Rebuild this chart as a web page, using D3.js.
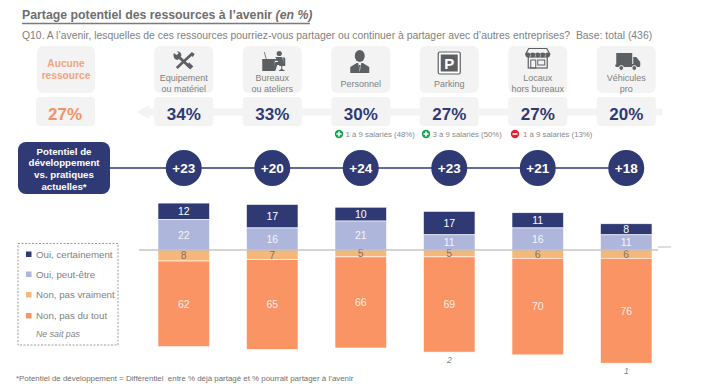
<!DOCTYPE html>
<html>
<head>
<meta charset="utf-8">
<script src="https://cdn.jsdelivr.net/npm/d3@7"></script>
<style>
  html, body { margin: 0; padding: 0; background: #fff; }
  svg { display: block; font-family: "Liberation Sans", Arial, sans-serif; }
</style>
</head>
<body>
<div id="graph"></div>
<script>
// Données
const ressources = [["Equipement", "ou matériel"], ["Bureaux", "ou ateliers"], ["Personnel"], ["Parking"], ["Locaux", "hors bureaux"], ["Véhicules", "pro"]];
const partage = [34, 33, 30, 27, 27, 20];
const potentiel = [23, 20, 24, 23, 21, 18];
const ouiCertainement = [12, 17, 10, 17, 11, 8];
const ouiPeutEtre = [22, 16, 21, 11, 16, 11];
const nonPasVraiment = [8, 7, 5, 5, 6, 6];
const nonPasDuTout = [62, 65, 66, 69, 70, 76];
const neSaitPas = ["", "", "", "2", "", "1"];
const aucuneRessource = 27;
const legende = ["Oui, certainement", "Oui, peut-être", "Non, pas vraiment", "Non, pas du tout"];
const notes = ["1 à 9 salariés (48%)", "3 à 9 salariés (50%)", "1 à 9 salariés (13%)"];

const width = 718;
const height = 389;
const marine = "#2f3a75";
const couleurs = ["#2f3a75", "#aeb6db", "#f6b77b", "#fa9465"];
const grisTexte = "#7f7f7f";
const grisCarte = "#f3f3f3";

const svg = d3.select("#graph").append("svg")
    .attr("width", width)
    .attr("height", height)
    .attr("viewBox", [0, 0, width, height]);

//---------------------------------------------------------------------------------------
// Echelles

const scaleX = d3.scaleBand()
    .domain(d3.range(ressources.length))
    .range([158, 652])
    .paddingInner(0.418)
    .paddingOuter(0);

const centre = i => scaleX(i) + scaleX.bandwidth() / 2;

// 0 = ligne de base, positif vers le haut
const scaleY = d3.scaleLinear()
    .domain([-100, 100])
    .range([250 + 138, 250 - 138]);

//---------------------------------------------------------------------------------------
// Titres

svg.append("text")
    .attr("x", 22).attr("y", 18.5)
    .attr("font-size", 12.3).attr("font-weight", "bold").attr("fill", "#6e6e6e")
    .text("Partage potentiel des ressources à l’avenir ")
    .append("tspan")
    .attr("font-style", "italic")
    .text("(en %)");

svg.append("line")
    .attr("x1", 22).attr("x2", 310).attr("y1", 23.5).attr("y2", 23.5)
    .attr("stroke", "#7a7a7a").attr("stroke-width", 1.4);

svg.append("text")
    .attr("x", 22).attr("y", 38.5)
    .attr("font-size", 10.4).attr("fill", grisTexte)
    .attr("xml:space", "preserve")
    .text("Q10. A l’avenir, lesquelles de ces ressources pourriez-vous partager ou continuer à partager avec d’autres entreprises?  Base: total (436)");

//---------------------------------------------------------------------------------------
// Bande grise + flèche derrière les pourcentages

svg.append("path")
    .attr("d", d3.line()([[137, 112], [149, 105], [149, 108.5], [662, 108.5], [662, 115.5], [149, 115.5], [149, 119]]))
    .attr("fill", grisCarte);

//---------------------------------------------------------------------------------------
// Cartes

svg.append("rect").attr("x", 37).attr("y", 46).attr("width", 58).attr("height", 47).attr("rx", 6).attr("fill", grisCarte);
svg.append("rect").attr("x", 36).attr("y", 97).attr("width", 59).attr("height", 29).attr("rx", 4).attr("fill", grisCarte);

svg.selectAll(".aucune")
    .data(["Aucune", "ressource"])
    .join("text")
    .attr("class", "aucune")
    .attr("x", 66).attr("y", (d, i) => 66.5 + i * 12)
    .attr("text-anchor", "middle")
    .attr("font-size", 10.2).attr("font-weight", "bold").attr("fill", "#f4a37c")
    .text(d => d);

svg.append("text")
    .attr("x", 65).attr("y", 120)
    .attr("text-anchor", "middle")
    .attr("font-size", 17).attr("font-weight", "bold").attr("fill", "#f39266")
    .text(aucuneRessource + "%");

const carte = svg.selectAll(".carte")
    .data(ressources)
    .join("g")
    .attr("class", "carte")
    .attr("transform", (d, i) => `translate(${centre(i)}, 0)`);

carte.append("rect")
    .attr("x", -29.5).attr("y", 46).attr("width", 59).attr("height", 47).attr("rx", 6)
    .attr("fill", grisCarte);

carte.append("rect")
    .attr("x", -29.5).attr("y", 97).attr("width", 59).attr("height", 29).attr("rx", 4)
    .attr("fill", grisCarte);

carte.each(function (d) {
    d3.select(this).selectAll("text.lib")
        .data(d)
        .join("text")
        .attr("class", "lib")
        .attr("y", (t, j) => (d.length === 1 ? 86.5 : 81) + j * 11)
        .attr("text-anchor", "middle")
        .attr("font-size", 9)
        .attr("fill", grisTexte)
        .text(t => t);
});

carte.append("text")
    .attr("y", 120)
    .attr("text-anchor", "middle")
    .attr("font-size", 17).attr("font-weight", "bold").attr("fill", marine)
    .text((d, i) => partage[i] + "%");

//---------------------------------------------------------------------------------------
// Icônes

const gris = "#5d6063";
const icones = carte.append("g").attr("fill", gris);

// outils : clé + tournevis croisés
icones.filter((d, i) => i === 0).call(g => {
    g.append("line").attr("x1", 8).attr("y1", 54).attr("x2", -7).attr("y2", 68)
        .attr("stroke", gris).attr("stroke-width", 2.6);
    g.append("line").attr("x1", -6).attr("y1", 56).attr("x2", 6).attr("y2", 67)
        .attr("stroke", gris).attr("stroke-width", 3);
    g.append("line").attr("x1", 4).attr("y1", 64).attr("x2", 8).attr("y2", 68)
        .attr("stroke", gris).attr("stroke-width", 4.4);
    g.append("path").attr("d", "M-10 53 L-7 55 L-5 53 L-7 51.5 C-4 51 -2 53 -2.5 56 L-6 60 C-9 60 -11 57 -10 53 Z");
    g.append("path").attr("d", "M8 52 L11 54 L9 57 L6 55 Z");
});
// bureau : personne assise
icones.filter((d, i) => i === 1).call(g => {
    g.append("rect").attr("x", -10).attr("y", 60).attr("width", 12.5).attr("height", 11);
    g.append("rect").attr("x", -10).attr("y", 59).attr("width", 17).attr("height", 1.8);
    g.append("path").attr("d", "M-6 59 L-8 52").attr("stroke", gris).attr("stroke-width", 0.8);
    g.append("circle").attr("cx", 7).attr("cy", 53.5).attr("r", 2.6);
    g.append("path").attr("d", "M3 57 L10 57 L12 65 L5 65 L3 71 L1 71 L3 62 L6 62 Z");
    g.append("path").attr("d", "M11 57 L13 58 L13 66 L7 66 L7 65 L11 64 Z");
    g.append("path").attr("d", "M9 66 L10 66 L10 69 L13 71 L6 71 L9 69 Z");
});
// personne en costume
icones.filter((d, i) => i === 2).call(g => {
    g.append("ellipse").attr("cx", -1).attr("cy", 56).attr("rx", 5).attr("ry", 6);
    g.append("path").attr("d", "M-10.5 73 L-10.5 67 L-4 63 L2 63 L8.5 67 L8.5 73 Z");
    g.append("path").attr("d", "M-2.5 63 L0.5 63 L-1 72 Z").attr("fill", "#f3f3f3");
    g.append("path").attr("d", "M-1.8 65 L-0.2 65 L-1 71 Z");
});
// parking
icones.filter((d, i) => i === 3).call(g => {
    g.append("rect").attr("x", -11).attr("y", 52).attr("width", 22).attr("height", 22).attr("rx", 1.5).attr("fill", "#fff").attr("stroke", gris).attr("stroke-width", 1.2);
    g.append("rect").attr("x", -8.5).attr("y", 54.5).attr("width", 17).attr("height", 17).attr("fill", gris);
    g.append("text").attr("y", 68.5).attr("text-anchor", "middle").attr("font-size", 15).attr("font-weight", "bold").attr("fill", "#fff").text("P");
});
// magasin
icones.filter((d, i) => i === 4).call(g => {
    g.append("path").attr("d", "M-9 48.5 L9 48.5 L12 54 L-12 54 Z").attr("fill", "none").attr("stroke", gris).attr("stroke-width", 1.2);
    g.selectAll("circle.auvent").data([-10, -5, 0, 5, 10]).join("circle").attr("class", "auvent")
        .attr("cx", d => d).attr("cy", 55).attr("r", 2.4);
    g.append("rect").attr("x", -9.5).attr("y", 57).attr("width", 19).attr("height", 11).attr("fill", "none").attr("stroke", gris).attr("stroke-width", 1.2);
    g.append("rect").attr("x", -7).attr("y", 60).attr("width", 5).attr("height", 8).attr("fill", "none").attr("stroke", gris);
    g.append("rect").attr("x", 0).attr("y", 60).attr("width", 7).attr("height", 5).attr("fill", "none").attr("stroke", gris);
});
// camion
icones.filter((d, i) => i === 5).call(g => {
    g.append("rect").attr("x", -10).attr("y", 53).attr("width", 16).attr("height", 11);
    g.append("rect").attr("x", -11).attr("y", 64).attr("width", 25).attr("height", 3).attr("rx", 1.5);
    g.append("path").attr("d", "M7 57 L10 57 L14 62 L14 65 L7 65 Z");
    g.selectAll("circle.roue").data([-5, 8]).join("circle").attr("class", "roue")
        .attr("cx", d => d).attr("cy", 68).attr("r", 2.4)
        .attr("stroke", "#f3f3f3").attr("stroke-width", 1);
});

//---------------------------------------------------------------------------------------
// Notes sous les cartes

const noteG = svg.selectAll(".note")
    .data(notes)
    .join("g")
    .attr("class", "note")
    .attr("transform", (d, i) => `translate(${[339, 426, 515][i]}, 134)`);

noteG.append("circle").attr("r", 4.2).attr("fill", (d, i) => i < 2 ? "#16a34f" : "#e5202e");
noteG.append("rect").attr("x", -2.5).attr("y", -0.8).attr("width", 5).attr("height", 1.6).attr("fill", "#fff");
noteG.filter((d, i) => i < 2).append("rect").attr("x", -0.8).attr("y", -2.5).attr("width", 1.6).attr("height", 5).attr("fill", "#fff");
noteG.append("text")
    .attr("x", (d, i) => i < 2 ? 6.5 : 8).attr("y", 2.7)
    .attr("font-size", 7.8).attr("fill", "#8a8a8a")
    .text(d => d);

//---------------------------------------------------------------------------------------
// Potentiel de développement

svg.append("line")
    .attr("x1", 110).attr("x2", centre(5)).attr("y1", 168).attr("y2", 168)
    .attr("stroke", marine).attr("stroke-width", 1.3);

svg.append("rect")
    .attr("x", 18).attr("y", 142).attr("width", 92).attr("height", 52).attr("rx", 8)
    .attr("fill", marine);

svg.selectAll(".pot")
    .data(["Potentiel de", "développement", "vs. pratiques", "actuelles*"])
    .join("text")
    .attr("class", "pot")
    .attr("x", 64).attr("y", (d, i) => 154.7 + i * 11.6)
    .attr("text-anchor", "middle")
    .attr("font-size", 9.7).attr("font-weight", "bold").attr("fill", "#fff")
    .text(d => d);

const bulle = svg.selectAll(".bulle")
    .data(potentiel)
    .join("g")
    .attr("class", "bulle")
    .attr("transform", (d, i) => `translate(${centre(i)}, 168)`);

bulle.append("circle").attr("r", 18).attr("fill", marine);
bulle.append("text")
    .attr("y", 4.8)
    .attr("text-anchor", "middle")
    .attr("font-size", 13.5).attr("font-weight", "bold").attr("fill", "#fff")
    .text(d => "+" + d);

//---------------------------------------------------------------------------------------
// Barres empilées de part et d'autre de la ligne de base

const segments = ressources.flatMap((d, i) => {
    const oui2 = ouiPeutEtre[i], oui1 = ouiCertainement[i], non1 = nonPasVraiment[i], non2 = nonPasDuTout[i];
    return [
        { i, v: oui1, y0: oui2, y1: oui2 + oui1, c: 0, t: "#fff" },
        { i, v: oui2, y0: 0, y1: oui2, c: 1, t: "#f4f5fb" },
        { i, v: non1, y0: -non1, y1: 0, c: 2, t: "#86705c" },
        { i, v: non2, y0: -non1 - non2, y1: -non1, c: 3, t: "#fdeee6" }
    ];
});

svg.selectAll(".seg")
    .data(segments)
    .join("rect")
    .attr("class", "seg")
    .attr("x", d => scaleX(d.i))
    .attr("width", scaleX.bandwidth())
    .attr("y", d => scaleY(d.y1))
    .attr("height", d => scaleY(d.y0) - scaleY(d.y1))
    .attr("fill", d => couleurs[d.c])
    .attr("stroke", "#fff")
    .attr("stroke-width", 0.6);

svg.selectAll(".segLab")
    .data(segments)
    .join("text")
    .attr("class", "segLab")
    .attr("x", d => centre(d.i))
    .attr("y", d => scaleY((d.y0 + d.y1) / 2) + 3.8)
    .attr("text-anchor", "middle")
    .attr("font-size", 10.5)
    .attr("fill", d => d.t)
    .text(d => d.v);

svg.selectAll(".nsp")
    .data(neSaitPas)
    .join("text")
    .attr("class", "nsp")
    .attr("x", (d, i) => centre(i))
    .attr("y", (d, i) => scaleY(-nonPasVraiment[i] - nonPasDuTout[i]) + 10.5)
    .attr("text-anchor", "middle")
    .attr("font-size", 8.5).attr("font-style", "italic").attr("fill", grisTexte)
    .text(d => d);

// ligne de base
svg.append("line")
    .attr("x1", 139).attr("x2", 658).attr("y1", scaleY(0)).attr("y2", scaleY(0))
    .attr("stroke", "#a9a9a9").attr("stroke-width", 1);

svg.append("line")
    .attr("x1", 658).attr("x2", 671).attr("y1", 247).attr("y2", 247)
    .attr("stroke", "#bdbdbd").attr("stroke-width", 1);

//---------------------------------------------------------------------------------------
// Légende

svg.append("rect")
    .attr("x", 18).attr("y", 243.5).attr("width", 100).attr("height", 101.5)
    .attr("fill", "none").attr("stroke", "#9a9a9a").attr("stroke-dasharray", "2,1.5");

const legend = svg.selectAll(".legend")
    .data(legende)
    .join("g")
    .attr("class", "legend")
    .attr("transform", (d, i) => `translate(26, ${[254, 274, 294.5, 315.5][i]})`);

legend.append("rect")
    .attr("y", -2.5).attr("width", 5.5).attr("height", 5.5)
    .attr("fill", (d, i) => couleurs[i]);

legend.append("text")
    .attr("x", 10).attr("y", 3.5)
    .attr("font-size", 9.7).attr("fill", grisTexte)
    .text(d => d);

svg.append("text")
    .attr("x", 36).attr("y", 337)
    .attr("font-size", 8.8).attr("font-style", "italic").attr("fill", grisTexte)
    .text("Ne sait pas");

//---------------------------------------------------------------------------------------
// Note de bas de page

svg.append("text")
    .attr("x", 16).attr("y", 381)
    .attr("font-size", 7.9).attr("fill", "#6f6f6f")
    .attr("xml:space", "preserve")
    .text("*Potentiel de développement = Différentiel  entre % déjà partagé et % pourrait partager à l’avenir");
</script>
</body>
</html>
